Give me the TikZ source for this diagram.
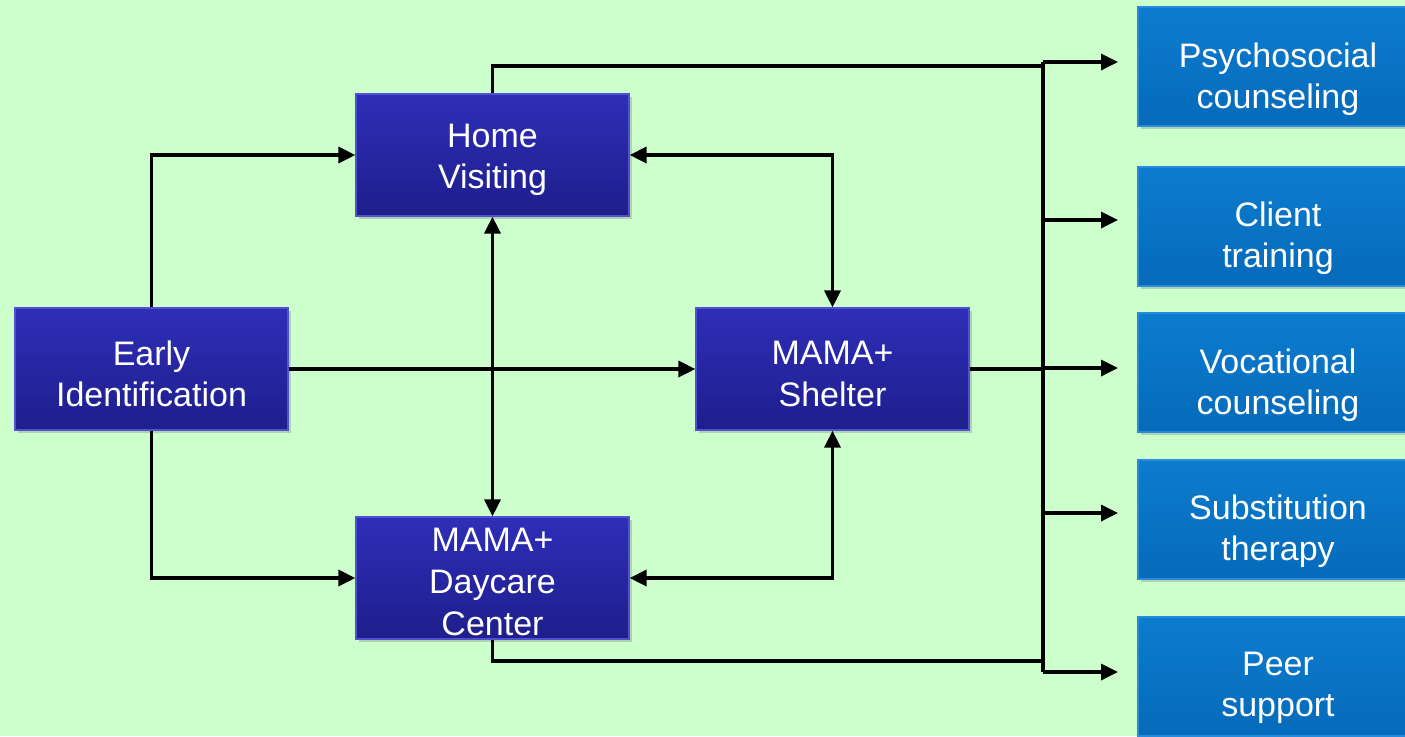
\documentclass[tikz,border=0pt]{standalone}
\usepackage{fontspec}
\setmainfont{Liberation Sans}
\usetikzlibrary{arrows.meta,shadows}
\definecolor{bg}{RGB}{204,255,204}
\definecolor{dtop}{RGB}{46,46,184}
\definecolor{dbot}{RGB}{30,30,140}
\definecolor{dedge}{RGB}{80,80,210}
\definecolor{btop}{RGB}{12,124,206}
\definecolor{bbot}{RGB}{6,106,186}
\definecolor{bedge}{RGB}{40,140,220}
\begin{document}
\begin{tikzpicture}[x=0.5pt,y=-0.5pt,
  txt/.style={font=\fontsize{17}{20.8}\selectfont, text=white, align=center},
  dbox/.style={minimum width=136.5pt, minimum height=61pt, inner sep=0pt,
    top color=dtop, bottom color=dbot, draw=dedge, line width=0.6pt,
    drop shadow={shadow xshift=1.5pt, shadow yshift=-1.5pt, opacity=0.35}},
  bbox/.style={minimum width=140pt, minimum height=59.5pt, inner sep=0pt,
    top color=btop, bottom color=bbot, draw=bedge, line width=0.6pt,
    drop shadow={shadow xshift=1.5pt, shadow yshift=-1.5pt, opacity=0.35}},
  ln/.style={line width=1.7pt, black},
  arr/.style={ln, -{Triangle[length=8.5pt,width=8pt]}},
  darr/.style={ln, {Triangle[length=8.5pt,width=8pt]}-{Triangle[length=8.5pt,width=8pt]}}
]
\fill[bg] (0,0) rectangle (1405,736);
\clip (0,0) rectangle (1405,736);

% main boxes
\node[dbox] (early) at (151.5,369) {};
\node[dbox] (home) at (492.5,155) {};
\node[dbox] (shelter) at (832.5,369) {};
\node[dbox] (day) at (492.5,578) {};
\node[txt] (te) at (151.5,374) {Early\\Identification};
\node[txt] (th) at (492.5,160) {Home\\Visiting};
\node[txt] (ts) at (832.5,374) {MAMA+\\Shelter};
\node[txt] (td) at (492.5,582) {MAMA+\\Daycare\\Center};

% right boxes
\node[bbox] (p1) at (1278,66.5) {};
\node[bbox] (p2) at (1278,226.5) {};
\node[bbox] (p3) at (1278,372.5) {};
\node[bbox] (p4) at (1278,519.5) {};
\node[bbox] (p5) at (1278,676.5) {};
\node[txt] (t1) at (1278,79) {Psychosocial\\counseling};
\node[txt] (t2) at (1278,238) {Client\\training};
\node[txt] (t3) at (1278,385) {Vocational\\counseling};
\node[txt] (t4) at (1278,531) {Substitution\\therapy};
\node[txt] (t5) at (1278,688) {Peer\\support};

% left connectors
\draw[arr] (early.north) |- (home.west);
\draw[arr] (early.south) |- (day.west);
\draw[arr] (early.east) -- (shelter.west);
\draw[darr] (home.south) -- (day.north);
\draw[darr] (home.east) -| (shelter.north);
\draw[darr] (day.east) -| (shelter.south);

% bus
\coordinate (bt) at (1043,62);
\coordinate (bb) at (1043,672);
\coordinate (hj) at (1043,66);
\coordinate (sj) at (1043,369);
\coordinate (dj) at (1043,661);
\draw[ln] (home.north) |- (hj);
\draw[ln] (shelter.east) -- (sj);
\draw[ln] (day.south) |- (dj);
\draw[ln] (bt) -- (bb);

\coordinate (b1) at (1043,62);
\coordinate (b2) at (1043,220);
\coordinate (b3) at (1043,368);
\coordinate (b4) at (1043,513);
\coordinate (b5) at (1043,672);
\coordinate (e1) at (1118,62);
\coordinate (e2) at (1118,220);
\coordinate (e3) at (1118,368);
\coordinate (e4) at (1118,513);
\coordinate (e5) at (1118,672);
\foreach \i in {1,...,5} {\draw[arr] (b\i) -- (e\i);}
\end{tikzpicture}
\end{document}
